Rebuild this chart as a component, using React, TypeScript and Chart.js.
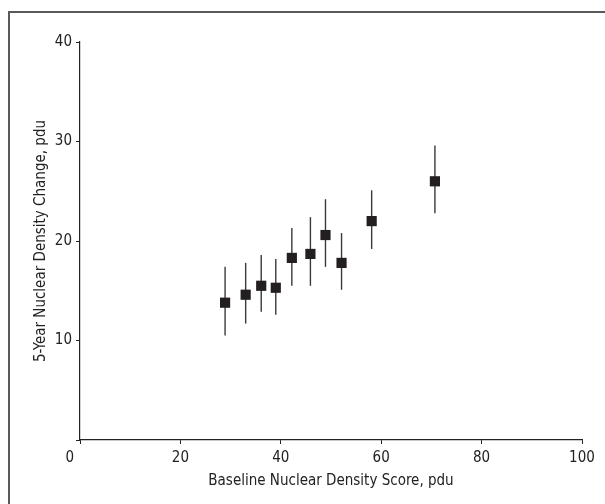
import React, { useEffect, useRef } from "react";
import { Chart, registerables } from "chart.js";

Chart.register(...registerables);

const baselineScore = [28.9, 33.0, 36.1, 39.0, 42.2, 45.9, 48.9, 52.1, 58.1, 70.7];
const densityChange = [13.8, 14.6, 15.5, 15.3, 18.3, 18.7, 20.6, 17.8, 22.0, 26.0];
const lowerCI = [10.5, 11.7, 12.9, 12.6, 15.5, 15.5, 17.4, 15.1, 19.2, 22.8];
const upperCI = [17.4, 17.8, 18.6, 18.2, 21.3, 22.4, 24.2, 20.8, 25.1, 29.6];

const xTicks = [0, 20, 40, 60, 80, 100];
const yTicks = [0, 10, 20, 30, 40];
const xTitle = "Baseline Nuclear Density Score, pdu";
const yTitle = "5-Year Nuclear Density Change, pdu";

const FONT = '"Liberation Sans Narrow", "DejaVu Sans Condensed", Arial, sans-serif';

const errorBarPlugin = {
  id: "errorBars",
  beforeDatasetsDraw(chart: any) {
    const { ctx, scales } = chart;
    const xs = scales.x;
    const ys = scales.y;
    ctx.save();
    ctx.strokeStyle = "#3a3a3a";
    ctx.lineWidth = 1.4;
    for (let i = 0; i < baselineScore.length; i++) {
      const px = xs.getPixelForValue(baselineScore[i]);
      ctx.beginPath();
      ctx.moveTo(px, ys.getPixelForValue(lowerCI[i]));
      ctx.lineTo(px, ys.getPixelForValue(upperCI[i]));
      ctx.stroke();
    }
    ctx.restore();
  },
};

export default function App() {
  const ref = useRef<HTMLCanvasElement>(null);
  useEffect(() => {
    if (!ref.current) return;
    const chart = new Chart(ref.current, {
      type: "scatter",
      data: {
        datasets: [
          {
            data: baselineScore.map((x, i) => ({ x, y: densityChange[i] })),
            pointStyle: "rect",
            pointRadius: 7.2,
            pointHoverRadius: 7.2,
            backgroundColor: "#231f20",
            borderWidth: 0,
          },
        ],
      },
      options: {
        animation: false,
        responsive: false,
        devicePixelRatio: 1,
        layout: { padding: { top: 42, right: 23, left: 0, bottom: 0 } },
        plugins: { legend: { display: false }, tooltip: { enabled: false } },
        scales: {
          x: {
            type: "linear",
            min: 0,
            max: 100,
            afterBuildTicks: (s: any) => {
              s.ticks = xTicks.map((v) => ({ value: v }));
            },
            afterFit: (s: any) => {
              s.height = 64;
            },
            grid: { drawOnChartArea: false, tickLength: 4, color: "#222", lineWidth: 1 },
            border: { display: true, color: "#222", width: 1.2 },
            ticks: {
              color: "#222",
              padding: 5,
              maxRotation: 0,
              font: { family: FONT, size: 15 },
              callback: (v: any) => (v === 0 ? "0\u2003\u2002" : String(v)),
            },
            title: {
              display: true,
              text: xTitle,
              color: "#222",
              font: { family: FONT, size: 15 },
              padding: { top: 0, bottom: 14 },
            },
          },
          y: {
            type: "linear",
            min: 0,
            max: 40,
            afterBuildTicks: (s: any) => {
              s.ticks = yTicks.map((v) => ({ value: v }));
            },
            afterFit: (s: any) => {
              s.width = 80;
            },
            grid: { drawOnChartArea: false, tickLength: 4, color: "#222", lineWidth: 1 },
            border: { display: true, color: "#222", width: 1.2 },
            ticks: {
              color: "#222",
              padding: 4,
              font: { family: FONT, size: 15 },
              callback: (v: any) => (v === 0 ? "" : String(v)),
            },
            title: {
              display: true,
              text: yTitle,
              color: "#222",
              font: { family: FONT, size: 15 },
              padding: { top: 32, bottom: 0 },
            },
          },
        },
      },
      plugins: [errorBarPlugin],
    });
    return () => chart.destroy();
  }, []);

  return (
    <>
      <div
        style={{
          position: "fixed",
          left: 8,
          top: 11,
          width: 597,
          height: 493,
          borderLeft: "2px solid #5a5a5a",
          borderTop: "2px solid #5a5a5a",
          boxSizing: "border-box",
        }}
      />
      <canvas
        ref={ref}
        width={605}
        height={504}
        style={{ position: "fixed", left: 0, top: 0, width: 605, height: 504, display: "block" }}
      />
    </>
  );
}
